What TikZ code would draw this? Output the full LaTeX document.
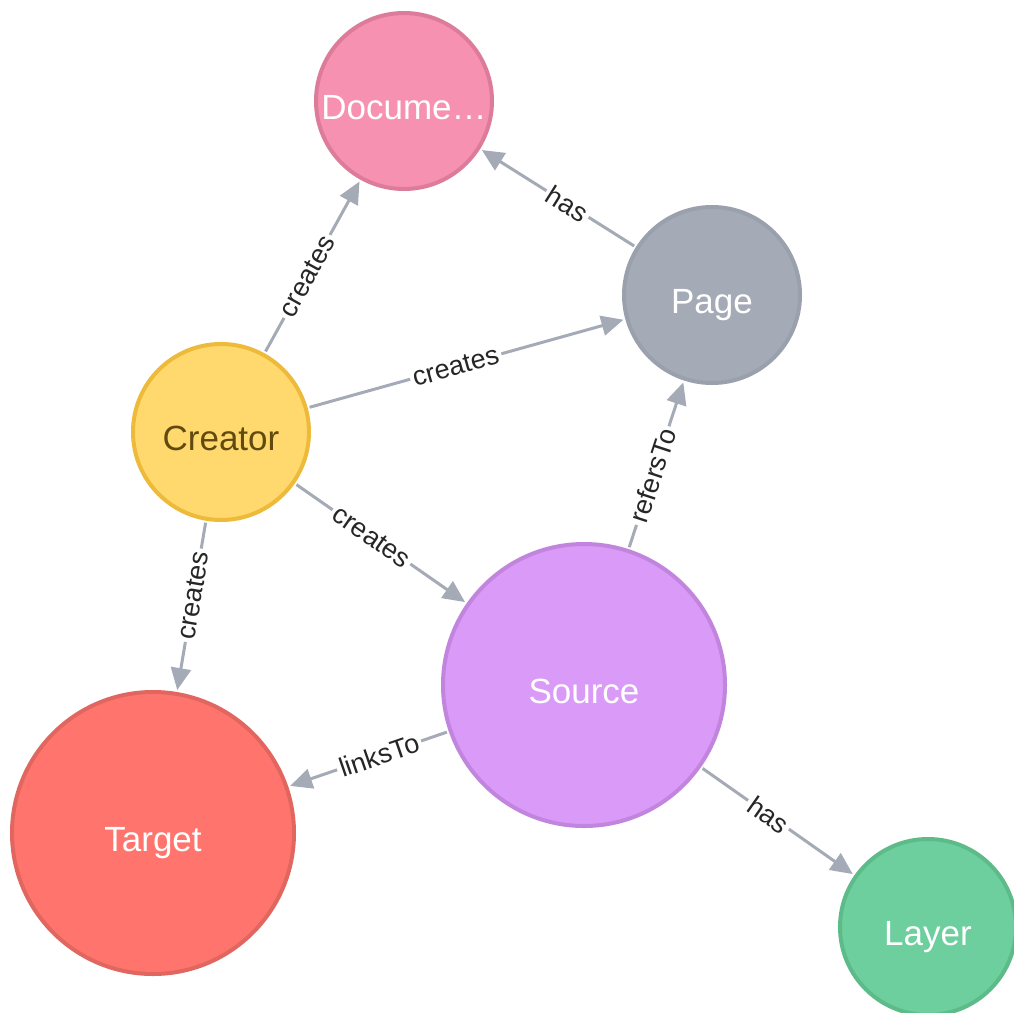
\documentclass[tikz,border=0pt]{standalone}
\usepackage{fontspec}
\setmainfont{Liberation Sans}
\usetikzlibrary{arrows.meta}

\definecolor{edgegray}{HTML}{A5ABB6}
\definecolor{docfill}{HTML}{F691B2}
\definecolor{docline}{HTML}{DC7C9A}
\definecolor{pagefill}{HTML}{A5ABB6}
\definecolor{pageline}{HTML}{9AA1AC}
\definecolor{creatorfill}{HTML}{FFD86E}
\definecolor{creatorline}{HTML}{EDBA39}
\definecolor{creatortext}{HTML}{604A0E}
\definecolor{sourcefill}{HTML}{DA9AF8}
\definecolor{sourceline}{HTML}{C285DE}
\definecolor{targetfill}{HTML}{FF756E}
\definecolor{targetline}{HTML}{E0665F}
\definecolor{layerfill}{HTML}{6DCE9E}
\definecolor{layerline}{HTML}{5DBB89}

\tikzset{
  entity/.style={circle, line width=4pt, font=\fontsize{35}{40}\selectfont,
    text=white, inner sep=0pt, text height=37pt, text depth=0pt},
  small/.style={entity, minimum size=176pt},
  large/.style={entity, minimum size=282pt},
  rel/.style={draw=edgegray, line width=3pt,
    -{Triangle[length=22pt,width=20pt]},
    shorten >=2pt, shorten <=2pt},
  rellabel/.style={sloped, fill=white, inner sep=3pt,
    font=\fontsize{27}{30}\selectfont, text=black!85}
}

\begin{document}
\begin{tikzpicture}[x=1pt, y=-1pt]
  \path[use as bounding box, clip] (0,0) rectangle (1014,1012);
  \fill[white] (0,0) rectangle (1014,1012);

  % entities
  \node[small, fill=docfill, draw=docline] (doc) at (404,101) {Docume…};
  \node[small, fill=pagefill, draw=pageline] (page) at (712,295) {Page};
  \node[small, fill=creatorfill, draw=creatorline, text=creatortext] (creator) at (221,432) {Creator};
  \node[large, fill=sourcefill, draw=sourceline] (source) at (584,685) {Source};
  \node[large, fill=targetfill, draw=targetline] (target) at (153,833) {Target};
  \node[small, fill=layerfill, draw=layerline] (layer) at (928,927) {Layer};

  % relationships
  \draw[rel] (creator) -- node[rellabel, pos=0.443] {creates} (doc);
  \draw[rel] (page) -- node[rellabel, pos=0.439] {has} (doc);
  \draw[rel] (creator) -- node[rellabel, pos=0.466] {creates} (page);
  \draw[rel] (creator) -- node[rellabel, pos=0.446] {creates} (source);
  \draw[rel] (creator) -- node[rellabel, pos=0.435] {creates} (target);
  \draw[rel] (source) -- node[rellabel, pos=0.436] {refersTo} (page);
  \draw[rel] (source) -- node[rellabel, pos=0.434] {linksTo} (target);
  \draw[rel] (source) -- node[rellabel, pos=0.44] {has} (layer);
\end{tikzpicture}
\end{document}
